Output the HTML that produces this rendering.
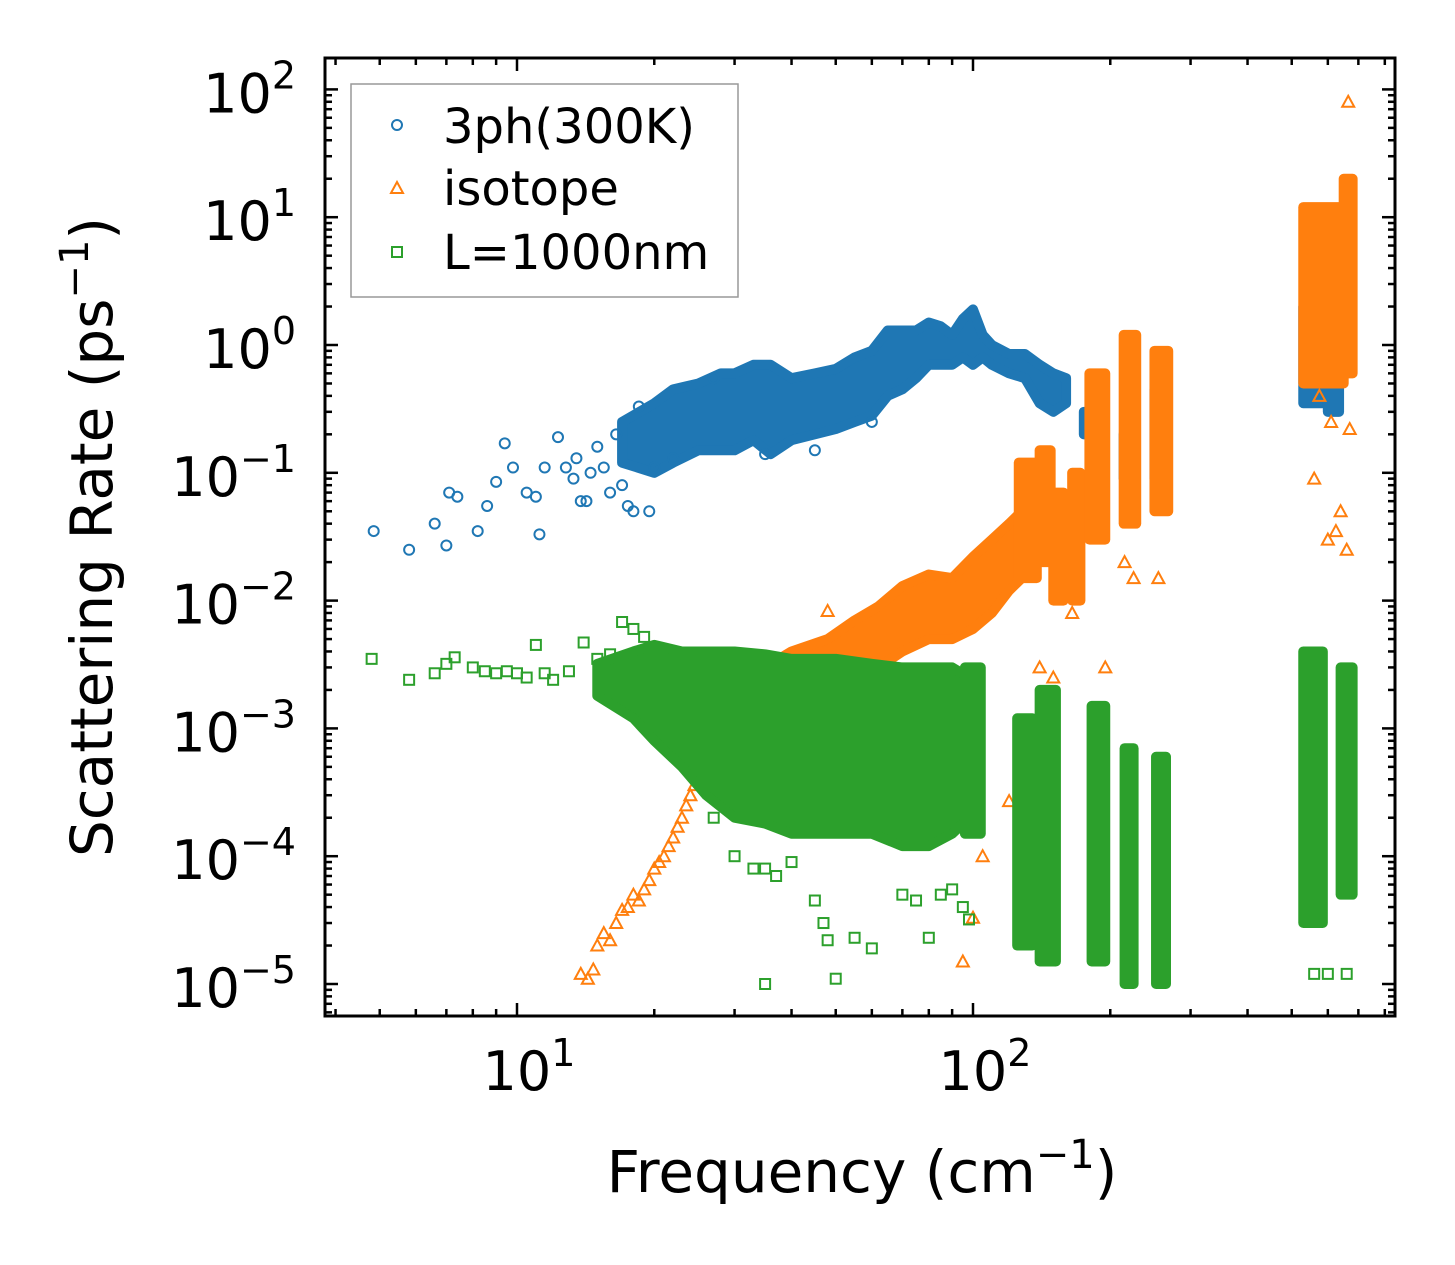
<!DOCTYPE html>
<html><head><meta charset="utf-8"><style>
html,body{margin:0;padding:0;background:#fff;}
svg{display:block;font-family:"DejaVu Sans","Liberation Sans",sans-serif;}
</style></head><body>
<svg id="chart" width="1455" height="1265" viewBox="0 0 1455 1265" xmlns="http://www.w3.org/2000/svg">
<rect width="1455" height="1265" fill="#fff"/>
<defs><clipPath id="plotclip"><rect x="325" y="58" width="1070" height="958"/></clipPath></defs>
<g id="marks" clip-path="url(#plotclip)"></g>
<g id="axes"></g>
<rect x="325" y="58" width="1070" height="958" fill="none" stroke="#000" stroke-width="3"/>
<text x="862" y="1192" font-size="58" text-anchor="middle">Frequency (cm<tspan font-size="40" dy="-24">−1</tspan><tspan dy="24">)</tspan></text>
<text transform="translate(112,537) rotate(-90)" font-size="58" text-anchor="middle">Scattering Rate (ps<tspan font-size="40" dy="-24">−1</tspan><tspan dy="24">)</tspan></text>
<g>
<rect x="351" y="84" width="387" height="213" fill="#fff" fill-opacity="0.8" stroke="#999" stroke-width="1.5"/>
<circle cx="397" cy="125" r="5" fill="none" stroke="#1f77b4" stroke-width="2"/>
<text x="443" y="143" font-size="48">3ph(300K)</text>
<polygon points="397,182 403,193 391,193" fill="none" stroke="#ff7f0e" stroke-width="2"/>
<text x="443" y="205" font-size="48">isotope</text>
<rect x="392" y="247" width="10" height="10" fill="none" stroke="#2ca02c" stroke-width="2"/>
<text x="443" y="269" font-size="48">L=1000nm</text>
</g>
</svg>
<script>
// ---- data ----
const blueCloudF  = [17,20,22,25,28,30,33,36,40,45,50,55,60,65,70,75,80,85,90,95,100,105,110,120,130,140,150,160];
const blueCloudLo = [0.12,0.1,0.12,0.15,0.15,0.15,0.18,0.14,0.18,0.2,0.22,0.25,0.28,0.4,0.45,0.55,0.7,0.7,0.7,0.8,0.7,0.8,0.7,0.6,0.55,0.35,0.3,0.35];
const blueCloudHi = [0.25,0.35,0.45,0.5,0.6,0.6,0.7,0.7,0.55,0.6,0.65,0.8,0.9,1.3,1.3,1.3,1.5,1.4,1.2,1.6,1.9,1.2,1.0,0.85,0.85,0.7,0.6,0.55];
const blueColF0 = [175,214,250,530,600];
const blueColF1 = [190,226,266,590,635];
const blueColLo = [0.2,0.09,0.09,0.35,0.3];
const blueColHi = [0.3,0.2,0.45,2.0,2.2];
const bluePtF = [4.85,5.8,6.6,7.0,7.1,7.4,8.2,8.6,9.0,9.4,9.8,10.5,11.0,11.2,11.5,12.3,12.8,13.3,13.5,13.8,14.2,14.5,15,15.5,16,16.5,17,17.5,18,18.5,19.5,20,35,45,60,22,27];
const bluePtR = [0.035,0.025,0.04,0.027,0.07,0.065,0.035,0.055,0.085,0.17,0.11,0.07,0.065,0.033,0.11,0.19,0.11,0.09,0.13,0.06,0.06,0.1,0.16,0.11,0.07,0.2,0.08,0.055,0.05,0.33,0.05,0.11,0.14,0.15,0.25,0.13,0.55];

const orangeCloudF  = [26,30,35,40,48,55,62,70,80,90,100,110,120,128];
const orangeCloudLo = [6e-4,9e-4,1.2e-3,1.5e-3,2e-3,2.5e-3,3e-3,4e-3,5e-3,5e-3,6e-3,8e-3,0.012,0.015];
const orangeCloudHi = [1.5e-3,2.5e-3,3e-3,4e-3,5e-3,7e-3,9e-3,0.013,0.016,0.015,0.022,0.03,0.04,0.05];
const orangeColF0 = [126,140,150,165,180,214,250,530,650];
const orangeColF1 = [138,148,158,172,195,228,268,650,680];
const orangeColLo = [0.015,0.02,0.01,0.01,0.03,0.04,0.05,0.5,0.6];
const orangeColHi = [0.12,0.15,0.07,0.1,0.6,1.2,0.9,12,20];
const orangePtF = [13.8,14.3,14.7,15,15.5,16,16.5,17,17.5,18,18.5,19,19.5,20,20.5,21,21.5,22,22.5,23,23.5,24,24.5,25,25.5,26,
  48,95,100,105,120,140,150,165,195,220,260,215,225,255,560,600,625,640,660,670,610,575,665];
const orangePtR = [1.2e-5,1.1e-5,1.3e-5,2e-5,2.5e-5,2.2e-5,3e-5,3.8e-5,4e-5,5e-5,4.5e-5,5.5e-5,6.5e-5,8e-5,9e-5,1e-4,1.2e-4,1.4e-4,1.7e-4,2e-4,2.5e-4,3e-4,3.6e-4,4.5e-4,5.5e-4,6.5e-4,
  0.0083,1.5e-5,3.3e-5,1e-4,2.7e-4,0.003,0.0025,0.008,0.003,2e-4,2e-4,0.02,0.015,0.015,0.09,0.03,0.035,0.05,0.025,0.22,0.25,0.4,80];

const greenCloudF  = [15,18,20,23,26,30,35,40,50,60,70,80,90,98];
const greenCloudLo = [0.0018,0.0012,0.0008,0.0005,0.0003,0.0002,0.00018,0.00015,0.00015,0.00015,0.00012,0.00012,0.00015,0.0002];
const greenCloudHi = [0.0032,0.004,0.0045,0.004,0.004,0.004,0.0038,0.0035,0.0035,0.0032,0.003,0.003,0.003,0.0025];
const greenColF0 = [96,125,140,182,215,252,530,640];
const greenColF1 = [104,135,152,195,225,265,585,680];
const greenColLo = [1.5e-4,2e-5,1.5e-5,1.5e-5,1e-5,1e-5,3e-5,5e-5];
const greenColHi = [0.003,0.0012,0.002,0.0015,0.0007,0.0006,0.004,0.003];
const greenPtF = [4.8,5.8,6.6,7,7.3,8,8.5,9,9.5,10,10.5,11,11.5,12,13,14,15,16,17,18,19,
  35,37,40,45,47,48,50,55,60,35,70,75,80,85,90,95,98,27,30,33,560,600,660];
const greenPtR = [0.0035,0.0024,0.0027,0.0032,0.0036,0.003,0.0028,0.0027,0.0028,0.0027,0.0025,0.0045,0.0027,0.0024,0.0028,0.0047,0.0035,0.0038,0.0068,0.006,0.0052,
  8e-5,7e-5,9e-5,4.5e-5,3e-5,2.2e-5,1.1e-5,2.3e-5,1.9e-5,1e-5,5e-5,4.5e-5,2.3e-5,5e-5,5.5e-5,4e-5,3.2e-5,2e-4,1e-4,8e-5,1.2e-5,1.2e-5,1.2e-5];

const xTickLabels = ["1","2"];
const xTickValues = [10,100];
const yTickValues = [100,10,1,0.1,0.01,0.001,1e-4,1e-5];
const yTickLabels = ["2","1","0","−1","−2","−3","−4","−5"];

// ---- axes ----
const X = f => 517 + 456*(Math.log10(f)-1);
const Y = r => 345 - 127.8*Math.log10(r);
const NS = "http://www.w3.org/2000/svg";
const marks = document.getElementById('marks');
const axes = document.getElementById('axes');
function mk(tag, attrs, parent){ const e=document.createElementNS(NS,tag); for(const k in attrs) e.setAttribute(k,attrs[k]); parent.appendChild(e); return e; }

function cloud(F,Lo,Hi,color,name){
  let pts=[]; F.forEach((f,i)=>pts.push(X(f)+','+Y(Hi[i])));
  for(let i=F.length-1;i>=0;i--) pts.push(X(F[i])+','+Y(Lo[i]));
  const p=mk('polygon',{points:pts.join(' '),fill:color,stroke:color,'stroke-width':10,'stroke-linejoin':'round'},marks);
  
  
}
function cols(F0,F1,Lo,Hi,color,name){
  F0.forEach((f,i)=>{
    const x0=X(f)-5,x1=X(F1[i])+5,y0=Y(Hi[i])-5,y1=Y(Lo[i])+5;
    const r=mk('rect',{x:x0,y:y0,width:x1-x0,height:y1-y0,rx:5,fill:color},marks);
    
    
  });
}
function pts(F,R,color,shape,name){
  F.forEach((f,i)=>{
    const x=X(f),y=Y(R[i]); let e;
    if(shape==='c') e=mk('circle',{cx:x,cy:y,r:5,fill:'none',stroke:color,'stroke-width':2},marks);
    else if(shape==='t') e=mk('polygon',{points:`${x},${y-6} ${x+6},${y+5} ${x-6},${y+5}`,fill:'none',stroke:color,'stroke-width':2},marks);
    else e=mk('rect',{x:x-5,y:y-5,width:10,height:10,fill:'none',stroke:color,'stroke-width':2},marks);
    
    
  });
}
const B='#1f77b4',O='#ff7f0e',G='#2ca02c';
cloud(blueCloudF,blueCloudLo,blueCloudHi,B,'3ph-cloud');
cols(blueColF0,blueColF1,blueColLo,blueColHi,B,'3ph-column');
pts(bluePtF,bluePtR,B,'c','3ph-point');
cloud(orangeCloudF,orangeCloudLo,orangeCloudHi,O,'isotope-cloud');
cols(orangeColF0,orangeColF1,orangeColLo,orangeColHi,O,'isotope-column');
pts(orangePtF,orangePtR,O,'t','isotope-point');
cloud(greenCloudF,greenCloudLo,greenCloudHi,G,'boundary-cloud');
cols(greenColF0,greenColF1,greenColLo,greenColHi,G,'boundary-column');
pts(greenPtF,greenPtR,G,'s','boundary-point');

// ticks
for(let d=0;d<=2;d++){ for(let m=1;m<=9;m++){ const f=m*Math.pow(10,d); const x=X(f); if(x<326||x>1394) continue;
  const L=(m===1)?13:7;
  const a=mk('line',{x1:x,y1:1016,x2:x,y2:1016-L,stroke:'#000','stroke-width':2.5},axes);
   
  const b=mk('line',{x1:x,y1:58,x2:x,y2:58+L,stroke:'#000','stroke-width':2.5},axes);
   
}}
for(let d=-6;d<=2;d++){ for(let m=1;m<=9;m++){ const r=m*Math.pow(10,d); const y=Y(r); if(y<59||y>1015) continue;
  const L=(m===1)?13:7;
  const a=mk('line',{x1:325,y1:y,x2:325+L,y2:y,stroke:'#000','stroke-width':2.5},axes);
   
  const b=mk('line',{x1:1395,y1:y,x2:1395-L,y2:y,stroke:'#000','stroke-width':2.5},axes);
   
}}
xTickValues.forEach((v,i)=>{
  const t=mk('text',{x:X(v)+12,y:1090,'font-size':54,'text-anchor':'middle'},axes);
   
  t.appendChild(document.createTextNode('10'));
  const s=mk('tspan',{'font-size':38,dy:-24},t); s.textContent=xTickLabels[i];
});
yTickValues.forEach((v,i)=>{
  const t=mk('text',{x:296,y:Y(v)+23,'font-size':54,'text-anchor':'end'},axes);
   
  t.appendChild(document.createTextNode('10'));
  const s=mk('tspan',{'font-size':38,dy:-24},t); s.textContent=yTickLabels[i];
});
</script>
</body></html>
